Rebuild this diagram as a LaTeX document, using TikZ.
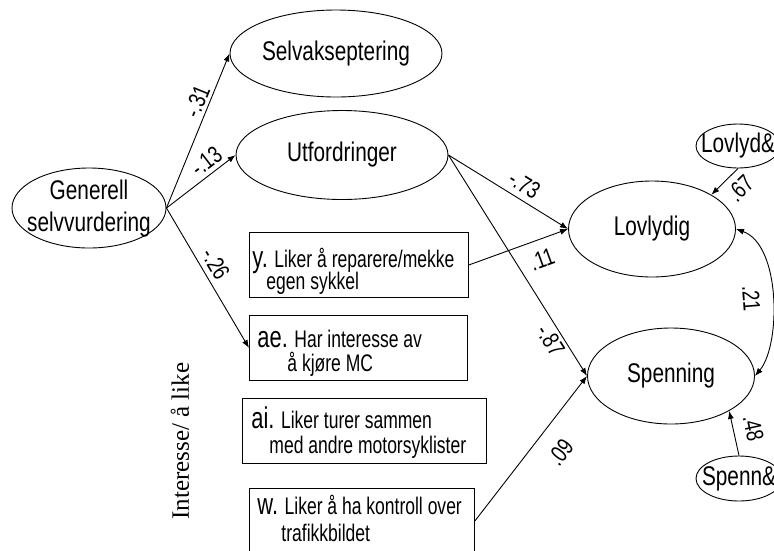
\documentclass[tikz,border=0pt]{standalone}
\usepackage{fontspec}
\setmainfont{Liberation Sans}[FakeStretch=0.77]
\newfontfamily\boxfam{Liberation Sans}[FakeStretch=0.73]
\newfontfamily\seriffam{Liberation Serif}
\usetikzlibrary{shapes.geometric,arrows.meta}

% larger lead-in letters of the item boxes
\newcommand\itemtag[1]{{\fontsize{30}{30}\selectfont #1}}

\begin{document}
\begin{tikzpicture}[x=1pt,y=-1pt,line width=0.9pt,
  latent/.style={draw,ellipse,inner sep=0pt},
  latentfont/.style={font=\fontsize{27}{32}\selectfont,align=center},
  itembox/.style={draw,rectangle,anchor=north west,inner sep=0pt},
  itemtext/.style={anchor=base west,inner sep=0pt,font=\boxfam\fontsize{24}{24}\selectfont},
  effect/.style={-{Latex[length=8pt,width=6pt]}},
  corr/.style={{Latex[length=8pt,width=6pt]}-{Latex[length=8pt,width=6pt]}},
  coef/.style={font=\fontsize{24}{26}\selectfont,inner sep=0pt,sloped}]

\useasboundingbox (0,0) rectangle (774,550);
\clip (0,0) rectangle (774,550);

% latent variables
\node[latent,minimum width=154pt,minimum height=80pt,
  label={[latentfont,yshift=-1pt]center:Generell\\selvvurdering}] (gen) at (89,208) {};
\node[latent,minimum width=212pt,minimum height=87pt,
  label={[latentfont]center:Selvakseptering}] (sel) at (336,53.5) {};
\node[latent,minimum width=212pt,minimum height=89pt,
  label={[latentfont]center:Utfordringer}] (utf) at (342,155) {};
\node[latent,minimum width=167pt,minimum height=96pt,
  label={[latentfont]center:Lovlydig}] (lov) at (652,229) {};
\node[latent,minimum width=167pt,minimum height=96pt,
  label={[latentfont]center:Spenning}] (spe) at (671,376) {};
\node[latent,minimum width=84pt,minimum height=44pt,
  label={[latentfont]center:Lovlyd\&}] (lres) at (738,146) {};
\node[latent,minimum width=86pt,minimum height=45pt,
  label={[latentfont]center:Spenn\&}] (sres) at (739,478.5) {};

% observed items: frame, then the two lines of wording
\node[itembox,minimum width=219pt,minimum height=65pt] (ybox) at (249,232) {};
\node[itemtext] (y1) at (252,267) {\itemtag{y.} Liker å reparere/mekke};
\node[itemtext] (y2) at (266,289) {egen sykkel};

\node[itembox,minimum width=218pt,minimum height=65pt] (aebox) at (249,315) {};
\node[itemtext] (ae1) at (257,347) {\itemtag{ae.} Har interesse av};
\node[itemtext] (ae2) at (287,371) {å kjøre MC};

\node[itembox,minimum width=244pt,minimum height=65pt] (aibox) at (242,398) {};
\node[itemtext] (ai1) at (251,428) {\itemtag{ai.} Liker turer sammen};
\node[itemtext] (ai2) at (269,453) {med andre motorsyklister};

\node[itembox,minimum width=225pt,minimum height=65pt] (wbox) at (249,488) {};
\node[itemtext] (w1) at (257,514) {\itemtag{w.} Liker å ha kontroll over};
\node[itemtext] (w2) at (281,541) {trafikkbildet};

\node[rotate=90,font=\seriffam\fontsize{25}{27}\selectfont] (group) at (180,441) {Interesse/ å like};

% structural paths
\draw[effect] (gen.east) -- (sel.west) node[coef,pos=0.66,above=3pt] {-.31};
\draw[effect] (gen.east) -- (utf.west) node[coef,pos=0.69,above=4pt] {-.13};
\draw[effect] (gen.east) -- (aebox.west) node[coef,pos=0.45,above=5pt] {-.26};
\draw[effect] (utf.east) -- (lov.west) node[coef,pos=0.57,above=6pt] {-.73};
\draw[effect] (ybox.east) -- (lov.west) node[coef,pos=0.67,below=11pt] {.11};
\draw[effect] (utf.east) -- (spe.west) node[coef,pos=0.81,below=3pt] {-.87};
\draw[effect] (wbox.east) -- (spe.west) node[coef,pos=0.58,below=17pt] {.09};

% residuals and correlation
\draw[effect] (lres.south) -- (lov.30) node[coef,pos=0.33,below=7pt] {.67};
\draw[effect] (sres.north) -- (spe.-31) node[coef,pos=0.51,above=11pt] {.48};
\draw[corr] (lov.east) .. controls (781,245) and (781,345) .. (spe.east)
  node[coef,pos=0.5,below=12pt] {.21};
\end{tikzpicture}
\end{document}
